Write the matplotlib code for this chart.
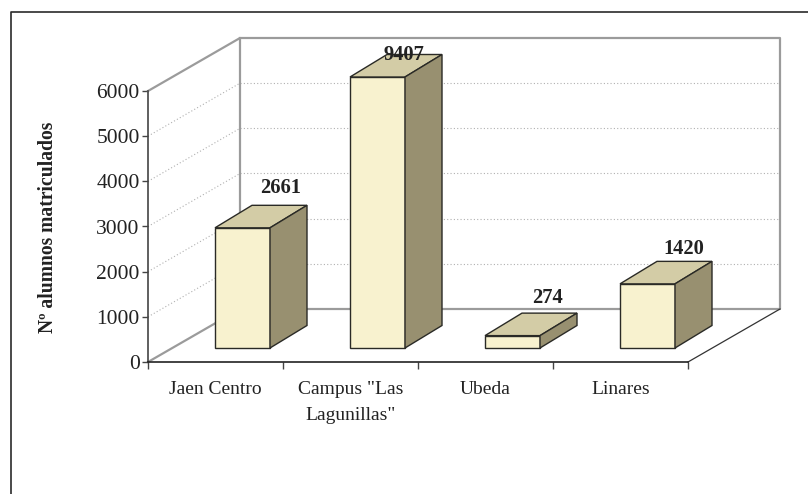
import matplotlib
matplotlib.use("Agg")
import matplotlib.pyplot as plt
import numpy as np
from matplotlib.lines import Line2D

plt.rcParams['font.family'] = ['Liberation Serif', 'DejaVu Serif']

#----------------------------------------------------------------------------------------#
# Data

campus = ['Jaen Centro', 'Campus "Las\nLagunillas"', 'Ubeda', 'Linares']
alumnos = [2661, 9407, 274, 1420]
yticks = [0, 1000, 2000, 3000, 4000, 5000, 6000]
ylabel = 'Nº alumnos matriculados'

#----------------------------------------------------------------------------------------#
# Layout (pixels of the 808x494 picture)

W, H = 808, 494
x0, x1 = 148, 688    # front edge of the floor
y0, y1 = 362, 91     # value 0 and value 6000
ymax = 6000

fig = plt.figure(figsize=(W / 100, H / 100), dpi=100, facecolor='white')
ax = fig.add_axes([x0 / W, 1 - y0 / H, (x1 - x0) / W, (y0 - y1) / H])
ax.set_xlim(0, 4)
ax.set_ylim(0, ymax)
ax.patch.set_alpha(0)

px_x = 4 / (x1 - x0)          # one pixel in x data units
px_y = ymax / (y0 - y1)       # one pixel in y data units
dx = 92 * px_x                # depth of the box
dy = 53 * px_y

#----------------------------------------------------------------------------------------#
# Box walls

GREY = '#9b9b9b'
for v in yticks[1:-1]:
    ax.plot([0, dx], [v, v + dy], color='#b0b0b0', lw=0.8, ls=(0, (1, 2)), clip_on=False, zorder=1)
    ax.plot([dx, 4 + dx], [v + dy, v + dy], color='#b0b0b0', lw=0.8, ls=(0, (1, 2)), clip_on=False, zorder=1)

ax.plot([0, dx, dx], [ymax, ymax + dy, dy], color=GREY, lw=1.6, clip_on=False, zorder=2)
ax.plot([dx, 4 + dx, 4 + dx, dx], [ymax + dy, ymax + dy, dy, dy], color=GREY, lw=1.6, clip_on=False, zorder=2)
ax.plot([0, dx], [0, dy], color=GREY, lw=1.6, clip_on=False, zorder=2)
ax.plot([4, 4 + dx], [0, dy], color='#333333', lw=0.9, clip_on=False, zorder=2)

#----------------------------------------------------------------------------------------#
# Bars (values above 6000 are cut at the top of the axis, as in the original)

FRONT = '#f8f2cf'
TOP = '#d3cca6'
SIDE = '#989070'
EDGE = '#2a2a26'

off_x = 67 * px_x
off_y = 14 * px_y
bw = 55 * px_x
bx = 37 * px_x
by = 22.5 * px_y

# where each number sits, in pixels from the back right corner of its bar top
label_off = [(-26, 17), (-38, -1), (-30, 15), (-28, 12)]

for i, v in enumerate(alumnos):
    h = min(v, ymax)
    l = i + off_x
    r = l + bw
    b = off_y
    t = off_y + h
    style = dict(edgecolor=EDGE, linewidth=1.0, clip_on=False, zorder=5, joinstyle='miter')
    ax.fill([l, r, r, l], [b, b, t, t], facecolor=FRONT, **style)
    ax.fill([l, r, r + bx, l + bx], [t, t, t + by, t + by], facecolor=TOP, **style)
    ax.fill([r, r + bx, r + bx, r], [b, b + by, t + by, t], facecolor=SIDE, **style)
    ax.annotate(str(v), xy=(r + bx, t + by), xytext=label_off[i], textcoords='offset pixels',
                ha='center', va='center', fontsize=14.8, fontweight='bold', color='#222222',
                annotation_clip=False, zorder=6)

#----------------------------------------------------------------------------------------#
# Axes

for s in ['top', 'right']:
    ax.spines[s].set_visible(False)
ax.spines['left'].set_color('#444444')
ax.spines['left'].set_linewidth(1.2)
ax.spines['bottom'].set_color('#222222')
ax.spines['bottom'].set_linewidth(1.2)

ax.set_yticks(yticks)
ax.set_yticklabels([str(v) for v in yticks], fontsize=15.5, color='#222222')
ax.tick_params(axis='y', length=4.5, width=1.0, color='#444444', pad=1.5)

ax.set_xticks(np.arange(5))
ax.set_xticklabels([])
ax.tick_params(axis='x', which='major', length=5, width=1.0, color='#444444')
ax.set_xticks(np.arange(4) + 0.5, minor=True)
ax.set_xticklabels(campus, minor=True, fontsize=14, color='#222222', linespacing=1.64)
ax.tick_params(axis='x', which='minor', length=0, pad=14)

fig.text(48 / W, 1 - 227 / H, ylabel, rotation=90, ha='center', va='center',
         fontsize=14.1, fontweight='bold', color='#222222')

# outer frame, only top and left are inside the picture
fig.add_artist(Line2D([11 / W, 11 / W, 1], [0, 1 - 12 / H, 1 - 12 / H],
                      color='#2a2a2a', lw=1.2, transform=fig.transFigure))

fig.savefig('out.png', dpi=100)
